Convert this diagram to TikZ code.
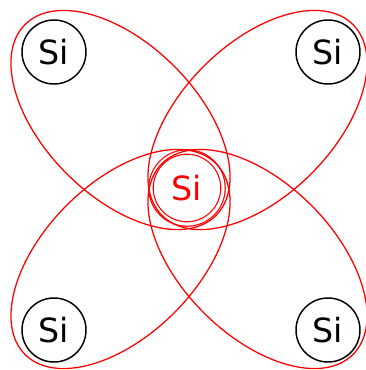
\documentclass[tikz,border=0pt]{standalone}
\usepackage{fontspec}
\setmainfont{DejaVu Sans}
\usetikzlibrary{calc, math}
\tikzset{
  atom/.style={circle, draw=black, line width=1.1, minimum size=48pt, inner sep=0pt,
    font=\fontsize{25}{30}\selectfont},
  core/.style={atom, draw=red, text=red, double=white, double distance=2.4pt,
    line width=0.9, minimum size=54pt},
  orbit/.style={red, line width=0.95},
}
\begin{document}
\begin{tikzpicture}[x=0.75pt,y=-0.75pt]
\tikzmath{
\a=135;
\b=76;
}
\useasboundingbox (0,0) rectangle (366,370);
\node[core] (c) at (187,188) {Si};
\node[atom] (tl) at (54,52) {Si};
\node[atom] (tr) at (328,52) {Si};
\node[atom] (bl) at (54,330) {Si};
\node[atom] (br) at (328,330) {Si};

% one orbital per bond
\draw[orbit] ($(c)!0.5!(tl)$) ellipse[x radius=\a, y radius=\b, rotate=-45];
\draw[orbit] ($(c)!0.5!(br)$) ellipse[x radius=\a, y radius=\b, rotate=-45];
\draw[orbit] ($(c)!0.5!(tr)$) ellipse[x radius=\a, y radius=\b, rotate=45];
\draw[orbit] ($(c)!0.5!(bl)$) ellipse[x radius=\a, y radius=\b, rotate=45];
\end{tikzpicture}
\end{document}
